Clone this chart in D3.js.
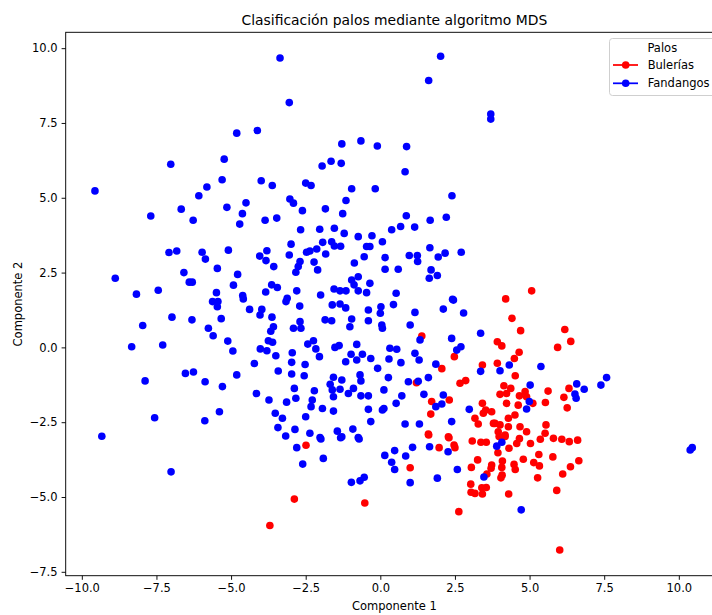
<!DOCTYPE html>
<html><head><meta charset="utf-8">
<script src="https://cdn.jsdelivr.net/npm/d3@7"></script>
<style>body{margin:0;background:#fff}svg{display:block}text{font-family:"DejaVu Sans",sans-serif}</style>
</head><body><svg id="c" width="712" height="615"></svg>
<script>
const title = "Clasificación palos mediante algoritmo MDS";
const xLabel = "Componente 1", yLabel = "Componente 2";
const legendTitle = "Palos";
const seriesNames = ["Bulerías", "Fandangos"];
const seriesColors = ["#ff0000", "#0000ff"];
const xTicks = [-10, -7.5, -5, -2.5, 0, 2.5, 5, 7.5, 10];
const yTicks = [-7.5, -5, -2.5, 0, 2.5, 5, 7.5, 10];
const xDomain = [-10.54, 11.48], yDomain = [-7.63, 10.53];

const fandangos = [
[-3.36,9.67],[-4.81,7.16],[-4.12,7.25],[-7.02,6.12],[-5.23,6.29],
[2.02,9.73],[1.62,8.92],[-3.05,8.18],[3.70,7.80],[3.70,7.63],
[-1.29,6.80],[-0.65,6.90],[-0.10,6.73],[0.88,6.71],[-1.65,6.22],[-1.31,6.15],[-1.95,6.06],[0.83,5.87],
[-9.56,5.23],[-5.30,5.60],[-3.99,5.57],[-3.62,5.41],[-5.81,5.36],[-6.08,5.07],[-4.50,4.83],[-6.67,4.62],[-5.14,4.68],[-4.62,4.47],[-7.69,4.39],[-6.27,4.25],[-4.71,4.12],[-3.86,4.25],[-3.47,4.32],
[-7.08,3.17],[-6.82,3.22],[-5.97,3.18],[-5.86,2.95],[-5.09,3.25],[-4.04,3.05],[-3.80,3.23],[-3.83,2.90],[-3.57,2.70],
[-8.88,2.31],[-6.58,2.50],[-5.46,2.64],[-4.78,2.44],[-6.40,2.18],[-6.30,2.18],[-8.17,1.78],[-7.44,1.91],[-4.92,2.08],[-5.49,1.83],[-3.64,2.09],[-3.45,2.00],[-3.84,1.85],[-4.61,1.73],[-5.62,1.53],[-5.44,1.53],[-4.59,1.62],
[-5.46,1.36],[-4.38,1.27],[-3.97,1.27],[-4.03,1.08],[-3.63,1.01],[-7.96,0.73],[-6.98,1.01],[-6.31,0.92],[-5.33,0.96],[-5.76,0.64],[-5.60,0.39],[-3.58,0.69],[-3.67,0.54],[-3.75,0.22],[-3.61,0.17],[-5.11,0.21],[-8.33,0.02],[-7.29,0.08],[-4.94,-0.12],[-4.02,-0.05],[-3.80,-0.11],[-3.50,-0.28],[-4.22,-0.54],[-3.42,-0.79],[-6.53,-0.87],[-6.26,-0.82],[-4.81,-0.92],[-7.88,-1.12],[-5.87,-1.15],[-5.29,-1.31],[-4.15,-1.54],[-3.73,-1.76],[-5.39,-2.15],[-3.52,-2.20],[-7.56,-2.35],[-5.88,-2.45],[-3.43,-2.68],[-9.33,-2.97],
[-7.01,-4.16],
[-3.17,-2.96],[-2.80,-3.35],[-1.99,-3.06],[-1.33,-3.02],[-0.71,-3.06],[-2.60,-3.90],[-1.91,-3.71],[-0.97,-4.51],[-0.68,-4.46],[-0.54,-4.34],[0.15,-3.61],[0.48,-3.45],[0.38,-3.84],[0.48,-4.08],[0.85,-3.63],[1.08,-3.34],[1.00,-4.52],[1.65,-3.32],[1.91,-4.37],[2.27,-3.49],[2.58,-4.08],[3.47,-4.33],
[3.90,-3.30],[4.07,-3.17],[4.72,-5.43],[10.38,-3.43],[10.45,-3.35],
[4.32,-0.59],[4.01,-0.78],[5.38,-0.64],[5.02,-1.26],[4.99,-1.81],[4.90,-2.06],[6.58,-1.22],[6.83,-1.40],[6.52,-1.56],[6.56,-1.70],[7.39,-1.26],[7.58,-1.01],
[-3.16,1.53],[-2.70,1.38],[-1.61,1.42],[-1.35,1.45],[-1.16,1.32],[-0.40,1.25],[0.02,1.36],[0.00,1.14],[0.44,1.43],[1.16,1.17],[2.11,1.28],[2.45,1.58],[2.79,1.15],
[-1.85,0.92],[-1.63,0.89],[-2.69,0.86],[-2.91,0.64],[-2.66,0.64],[-0.96,0.95],[-1.02,0.69],[-0.40,0.89],[0.05,0.75],[0.07,0.64],[1.00,0.75],[1.33,0.25],[3.36,0.47],[2.39,0.30],[2.70,0.02],[2.56,-0.09],[3.36,-0.80],[1.86,-0.56],
[-2.43,0.11],[-2.24,0.22],[-2.16,-0.05],[-1.52,0.00],[-1.38,0.06],[-0.79,0.10],[0.32,-0.03],[0.55,-0.06],[1.16,-0.20],[1.30,-0.42],[-2.95,-0.18],[-2.97,-0.50],[-2.52,-0.57],[-2.04,-0.31],[-0.98,-0.23],[-0.60,-0.23],[-1.16,-0.48],[-0.79,-0.42],[-0.32,-0.37],[0.29,-0.39],[0.69,-0.51],
[-2.97,-0.89],[-2.55,-0.95],[-0.09,-0.70],[-0.68,-0.92],[0.27,-1.01],[-1.57,-1.00],[-1.29,-1.09],[-0.65,-1.12],[-1.68,-1.23],[0.94,-1.15],[1.27,-1.13],[1.61,-1.01],
[-2.88,-1.37],[-2.21,-1.45],[-1.61,-1.42],[-1.35,-1.40],[-1.07,-1.54],[-0.90,-1.37],[-0.65,-1.62],[-0.40,-1.62],[0.12,-1.42],[0.72,-1.62],[-1.57,-1.65],[-2.83,-1.70],[-2.28,-1.76],[-2.32,-1.98],[-3.14,-1.83],[1.46,-1.57],[1.86,-1.98],[2.06,-1.89],[2.11,-1.59],[0.53,-1.87],[-0.40,-2.07],[0.07,-2.09],[0.12,-2.04],[-1.94,-2.04],[-1.57,-2.13],[-3.28,-2.37],[-2.50,-2.32],[-0.32,-2.48],[0.83,-2.56],[1.31,-2.56],[2.39,-2.48],[2.98,-2.07],
[-2.86,-2.74],[-2.36,-2.87],[-2.02,-3.01],[-1.44,-2.80],[-1.29,-2.99],[-0.92,-2.73],[-0.74,-3.01],
[-2.50,5.49],[-2.32,5.41],[-0.96,5.30],[-0.17,5.30],[2.40,5.07],[-3.03,4.96],[-2.91,4.82],[-1.15,4.91],[-2.61,4.57],[-1.84,4.63],[-1.26,4.47],[0.87,4.40],[1.67,4.25],[2.21,4.35],[0.68,4.04],[1.15,4.02],[0.38,3.93],[-2.67,3.93],[-2.03,3.95],[-1.54,3.98],[-1.21,3.81],[-0.74,3.70],[-0.28,3.73],[0.07,3.53],[-2.99,3.45],[-1.93,3.51],[-1.63,3.53],[-1.54,3.39],[-1.33,3.38],[-0.46,3.37],[-0.35,3.37],[1.66,3.33],[-3.05,3.09],[-2.47,3.18],[-2.36,3.22],[-2.13,3.29],[-1.83,3.12],[-0.54,3.03],[0.16,3.00],[0.97,3.07],[1.24,3.07],[1.25,2.87],[1.94,3.02],[2.17,3.15],[2.71,3.18],[-2.69,2.87],[-2.75,2.70],[-2.22,2.85],[-2.10,2.59],[-0.87,2.82],[0.16,2.61],[0.60,2.61],[1.70,2.59],[1.64,2.31],[1.91,2.40],[-2.83,2.51],[-0.96,2.25],[-0.74,2.36],[-0.88,2.09],[-0.35,2.14],[-2.80,1.89],[-2.00,1.75],[-1.55,1.95],[-1.35,1.89],[-1.15,1.89],[-0.74,1.89],[-0.46,1.83],[0.53,1.81],[2.42,1.61],[-3.12,1.64]
];

const bulerias = [
[-3.70,-5.95],[-2.49,-3.27],[-2.88,-5.07],[-0.52,-5.20],[1.00,-4.02],[1.62,-2.93],[1.97,-3.35],[2.30,-3.02],[2.47,-3.26],[2.50,-3.35],[2.63,-5.49],[3.08,-3.13],[3.37,-3.17],[3.55,-3.17],[3.26,-3.76],[3.05,-4.01],[3.73,-3.93],[3.71,-4.04],[3.57,-4.23],[3.03,-4.57],[3.04,-4.84],[3.17,-4.88],[3.40,-4.69],[3.42,-4.90],[3.55,-4.68],
[3.98,-2.98],[4.18,-2.98],[4.31,-3.37],[3.94,-3.52],[4.09,-3.80],[4.07,-4.01],[4.08,-4.27],[4.04,-4.36],[4.48,-3.91],[4.52,-4.08],[4.30,-4.90],[4.57,-3.21],[4.66,-3.05],[4.79,-3.74],[5.03,-3.21],[5.14,-3.85],[5.33,-3.96],[5.31,-3.58],[5.36,-3.07],[5.27,-4.36],[5.78,-3.66],[5.80,-3.04],[6.08,-3.07],[6.33,-3.15],[6.61,-3.10],[6.65,-3.79],[6.37,-3.99],[6.11,-4.23],[5.91,-4.78],[6.01,-6.77],
[4.20,1.62],[5.07,1.89],[4.41,0.97],[4.70,0.56],[6.18,0.60],[6.38,0.20],[5.94,0.00],[3.92,0.19],[4.07,0.05],[4.65,-0.16],[4.49,-0.37],[3.92,-0.53],[4.52,-0.95],[4.14,-1.28],[4.37,-1.37],[4.01,-1.57],[4.23,-1.54],[4.66,-1.62],[4.85,-1.48],[4.90,-1.65],[5.11,-1.87],[4.62,-1.93],[4.23,-1.87],[4.51,-2.26],[4.29,-2.37],[5.62,-1.46],[5.53,-1.84],[6.32,-1.37],[6.15,-1.67],[6.26,-2.02],[3.84,-2.54],[4.01,-2.59],[4.29,-2.65],[4.68,-2.65],[4.90,-2.82],[5.55,-2.59],[5.52,-2.87],[3.73,-2.15],[3.95,-2.82],[4.18,-2.93],
[1.39,0.38],[2.48,-0.31],[3.42,-0.59],[2.06,-0.71],[1.21,-1.18],[1.72,-1.81],[2.31,-1.76],[1.69,-2.23],[3.17,-2.37],[3.28,-2.56],[3.42,-1.87],[3.53,-2.09],[3.45,-2.20],[3.79,-2.54],[1.61,-2.90],[2.28,-2.99],[2.67,-1.20],[2.86,-1.11]
];

const svg = d3.select("#c");
const L = 65.7, R = 723, T = 32.3, B = 575.7;
const FS = "11.5px";
const x = d3.scaleLinear().domain(xDomain).range([L, R]);
const y = d3.scaleLinear().domain(yDomain).range([B, T]);
const fmt = d => d3.format(".1f")(d).replace("-", "\u2212");

// points: red first, blue on top
const series = [bulerias, fandangos];
series.forEach((pts, i) => {
  svg.append("g").selectAll("circle").data(pts).join("circle")
    .attr("cx", d => x(d[0])).attr("cy", d => y(d[1])).attr("r", 3.8)
    .attr("fill", seriesColors[i]);
});

// axes
const xa = svg.append("g").attr("transform", `translate(0,${B})`)
  .call(d3.axisBottom(x).tickValues(xTicks).tickFormat(fmt).tickSize(4.1).tickPadding(4));
const ya = svg.append("g").attr("transform", `translate(${L},0)`)
  .call(d3.axisLeft(y).tickValues(yTicks).tickFormat(fmt).tickSize(4.1).tickPadding(4));
[xa, ya].forEach(a => {
  a.select(".domain").remove();
  a.selectAll("line").attr("stroke", "#000").attr("stroke-width", 0.94);
  a.selectAll("text").attr("fill", "#000").style("font-size", FS).style("font-family", "DejaVu Sans");
});
// spines
svg.append("rect").attr("x", L).attr("y", T).attr("width", R - L).attr("height", B - T)
  .attr("fill", "none").attr("stroke", "#000").attr("stroke-width", 0.94);

svg.append("text").attr("x", (L + R) / 2).attr("y", 25).attr("text-anchor", "middle")
  .style("font-size", "13.9px").text(title);
svg.append("text").attr("x", (L + R) / 2).attr("y", 610).attr("text-anchor", "middle")
  .style("font-size", FS).text(xLabel);
svg.append("text").attr("transform", `translate(22,${(T + B) / 2}) rotate(-90)`).attr("text-anchor", "middle")
  .style("font-size", FS).text(yLabel);

// legend
const lg = svg.append("g");
lg.append("rect").attr("x", 609.5).attr("y", 38.5).attr("width", 106).attr("height", 57).attr("rx", 3)
  .attr("fill", "#fff").attr("fill-opacity", 0.8).attr("stroke", "#cccccc").attr("stroke-width", 0.94);
lg.append("text").attr("x", 662.3).attr("y", 51.5).attr("text-anchor", "middle").style("font-size", FS).text(legendTitle);
seriesNames.forEach((n, i) => {
  const yy = 65 + i * 18.3;
  lg.append("line").attr("x1", 613).attr("x2", 638).attr("y1", yy).attr("y2", yy)
    .attr("stroke", seriesColors[i]).attr("stroke-width", 1.75);
  lg.append("circle").attr("cx", 625.7).attr("cy", yy).attr("r", 3.8).attr("fill", seriesColors[i]);
  lg.append("text").attr("x", 647.7).attr("y", yy + 4.1).style("font-size", FS).text(n);
});
</script></body></html>
